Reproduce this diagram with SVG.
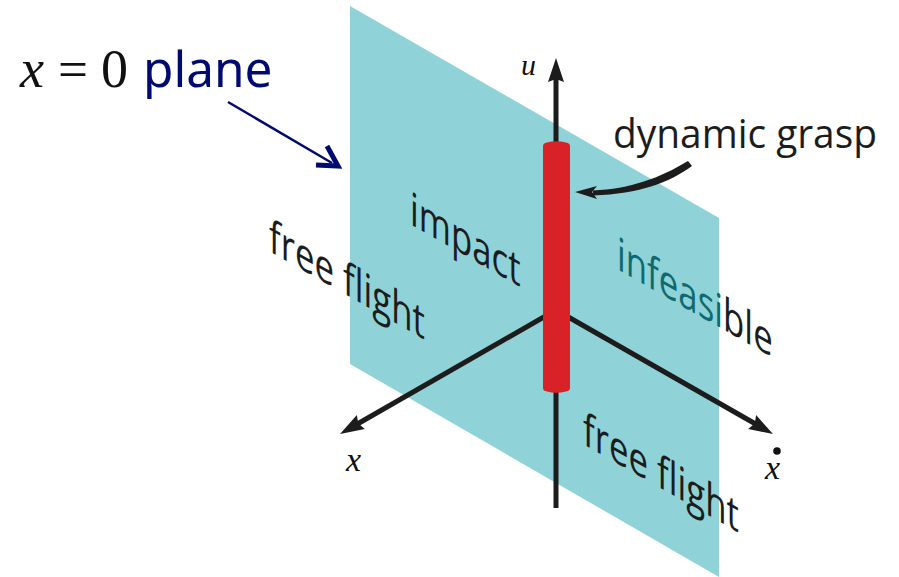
<svg xmlns="http://www.w3.org/2000/svg" width="899" height="577" viewBox="0 0 899 577">
<style>
.s{font-family:"Open Sans","Noto Sans",sans-serif;font-size:40px;fill:#1c1c1c;stroke:currentColor;stroke-width:0}
.m{font-family:"Liberation Serif",serif;fill:#111}
.ax{stroke:#1c1c1c;stroke-width:5;fill:none}
</style>
<defs>
<marker id="ah" markerUnits="userSpaceOnUse" markerWidth="26" markerHeight="26" refX="8" refY="12" orient="auto"><path d="M0 4L24 12L0 20L3 12Z" fill="#1c1c1c"/></marker>
</defs>
<rect width="899" height="577" fill="#fff"/>
<g id="plane"><path d="M350 6L719 218V577L350 364Z" fill="#8fd2d8"/></g>
<g id="connectors">
<path class="ax" d="M556 508V74" marker-end="url(#ah)"/>
<path class="ax" d="M556 310L353.900 426" marker-end="url(#ah)"/>
<path class="ax" d="M556 310L759.100 426" marker-end="url(#ah)"/>
<path d="M692 166C670 182 640 194 593 195.500L593 190.500C630 189 660 178 688 161Z" fill="#1c1c1c"/>
<path d="M575 192L597 186L592 192L597 199Z" fill="#1c1c1c"/>
<path d="M228 102L332 163" fill="none" stroke="#000a70" stroke-width="2.5"/>
<path d="M327 146L338 166L316 165" fill="none" stroke="#000a70" stroke-width="5"/>
</g>
<g id="grasp"><path d="M543 146Q543 143 547 142.500Q556 140 566 142.500Q570 143 570 146V388Q570 391 566 391.500Q556 394 547 391.500Q543 391 543 388Z" fill="#d92128"/></g>
<g id="label-plane">
<text class="m" x="20" y="87" font-size="54" font-style="italic">x</text>
<text class="m" x="58" y="87" font-size="52" textLength="30" lengthAdjust="spacingAndGlyphs">=</text>
<text class="m" x="101" y="87" font-size="54">0</text>
<text x="143" y="87" font-family="'Noto Sans',sans-serif" font-size="49.500" fill="#000a70">plane</text>
</g>
<g id="label-u"><text class="m" x="521" y="75" font-size="30" font-style="italic">u</text></g>
<g id="label-x"><text class="m" x="346" y="471" font-size="34" font-style="italic">x</text></g>
<g id="label-xdot"><text class="m" x="765" y="479" font-size="34" font-style="italic">x</text><circle cx="777" cy="451" r="3.800" fill="#111"/></g>
<g id="label-grasp"><text class="s" x="613" y="148" font-size="38" textLength="264" lengthAdjust="spacingAndGlyphs">dynamic grasp</text></g>
<g id="label-impact"><text class="s" transform="matrix(.87 .495 0 1.150 410 224)">impact</text></g>
<g id="label-ff1"><text class="s" transform="matrix(.87 .495 0 1.150 269 251)">free flight</text></g>
<g id="label-ff2"><text class="s" transform="matrix(.87 .495 0 1.150 583 444)">free flight</text></g>
<g id="label-inf"><text class="s" transform="matrix(.87 .495 0 1.150 617 269)"><tspan fill="#0e6a6e">infeasi</tspan>ble</text></g>
</svg>
